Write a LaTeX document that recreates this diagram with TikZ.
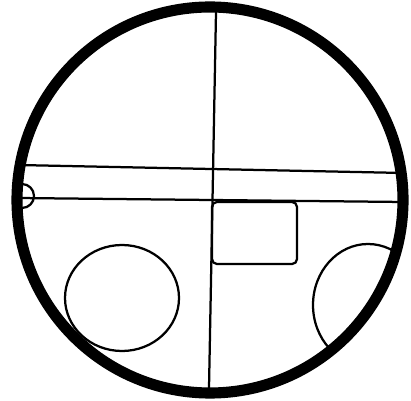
\documentclass[tikz,border=0pt]{standalone}
\usepackage{tikz}
\usetikzlibrary{calc}
\definecolor{ink}{RGB}{0,0,0}

\begin{document}
\begin{tikzpicture}[x=0.025cm, y=0.025cm, thinline/.style={draw=ink, line width=1.6pt}, rimline/.style={draw=ink, line width=7.9pt}]
  \useasboundingbox (0,0) rectangle (411,400);
  \coordinate (hub) at (210,200);
  % shapes inside the rim
  \begin{scope}
    \clip (hub) circle (193);
    \draw[thinline] (122,102) ellipse (57 and 53);
    \draw[thinline] (368,95) ellipse (55 and 61);
  \end{scope}
  \draw[thinline] (216,388) -- (209,12);
  \draw[thinline] (18,235) -- (404,227);
  \draw[thinline] (18,202) -- (404,198);
  \draw[thinline, rounded corners=3.5pt] (212,198) rectangle (297,136);
  \draw[thinline] (22,216) arc (90:-90:12);
  % outer rim
  \draw[rimline] (hub) circle (193);
\end{tikzpicture}
\end{document}
